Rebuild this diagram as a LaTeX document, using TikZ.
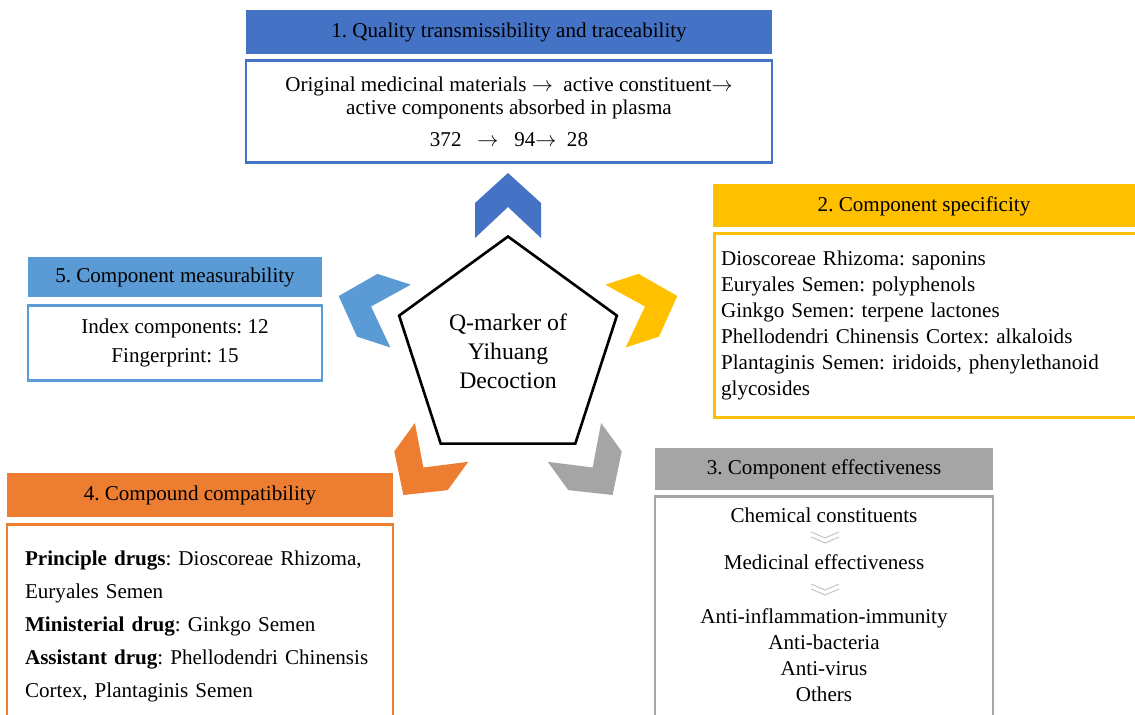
\documentclass[tikz,border=0pt]{standalone}
\usepackage{fontspec}
\setmainfont{Liberation Serif}
\usetikzlibrary{positioning,shapes.geometric,calc}
\frenchspacing

\definecolor{qblue}{HTML}{4472C4}
\definecolor{qyellow}{HTML}{FFC000}
\definecolor{qgray}{HTML}{A5A5A5}
\definecolor{qorange}{HTML}{ED7D31}
\definecolor{qsky}{HTML}{5B9BD5}

\begin{document}
\begin{tikzpicture}[
    x=0.02cm, y=-0.02cm,
    head/.style={fill=#1, inner sep=0pt, font=\fontsize{12}{14}\selectfont},
    body/.style={draw=#1, line width=1.6pt, fill=white, inner sep=0pt},
    wedge/.style={draw=black!22, line width=0.6pt},
    ]
    \useasboundingbox (0,0) rectangle (1135,715);

    % centre pentagon and the five chevrons
    \node[regular polygon, regular polygon sides=5, draw, line width=1.5pt, minimum size=4.58cm,
          inner sep=0pt, align=center, font=\fontsize{13.5}{16.5}\selectfont] (qm) at (508,351)
          {Q-marker of\\Yihuang\\Decoction};
    \foreach \a/\c in {0/qblue, -72/qyellow, -144/qgray, 144/qorange, 72/qsky}
        \fill[\c, shift={(qm.center)}, rotate=\a]
            (-33,-148) -- (0,-178) -- (33,-148) -- (33,-113) -- (0,-144) -- (-33,-113) -- cycle;

    % 1
    \node[head=qblue, minimum width=10.52cm, minimum height=0.88cm] (h1) at (509,32)
        {1. Quality transmissibility and traceability};
    \node[body=qblue, below=0.1cm of h1, minimum width=10.52cm, minimum height=2.04cm,
          align=center, font=\fontsize{12}{13}\selectfont] (b1)
        {Original medicinal materials $\rightarrow$ \ active constituent$\rightarrow$\\
         active components absorbed in plasma\\[5pt]
         372 \ \ $\rightarrow$ \ \ 94$\rightarrow$ \ 28};

    % 2
    \node[head=qyellow, minimum width=8.44cm, minimum height=0.86cm] (h2) at (924,206)
        {2. Component specificity};
    \node[body=qyellow, below=0.08cm of h2.south west, anchor=north west, minimum height=3.68cm,
          inner xsep=0.14cm, text width=8.4cm, align=left, font=\fontsize{12}{14.8}\selectfont] (b2)
        {Dioscoreae Rhizoma: saponins\\
         Euryales Semen: polyphenols\\
         Ginkgo Semen: terpene lactones\\
         Phellodendri Chinensis Cortex: alkaloids\\
         Plantaginis Semen: iridoids, phenylethanoid\\
         glycosides};

    % 3
    \node[head=qgray, minimum width=6.76cm, minimum height=0.84cm] (h3) at (824,469)
        {3. Component effectiveness};
    \node[body=qgray, below=0.1cm of h3, minimum width=6.76cm, minimum height=4.5cm] (b3) {};
    \node[font=\fontsize{12}{14.8}\selectfont] (c1) at (824,515) {Chemical constituents};
    \node[font=\fontsize{12}{14.8}\selectfont] (c2) at (824,562) {Medicinal effectiveness};
    \node[align=center, font=\fontsize{12}{14.8}\selectfont] (c3) at (824,655)
        {Anti-inflammation-immunity\\Anti-bacteria\\Anti-virus\\Others};
    \coordinate (v1) at (825,532);
    \coordinate (v2) at (825,584);
    \foreach \v in {v1,v2} {
        \draw[wedge] ($(\v)+(-14,0)$) -- ($(\v)+(0,6)$) -- ($(\v)+(14,0)$);
        \draw[wedge] ($(\v)+(-14,5)$) -- ($(\v)+(0,11)$) -- ($(\v)+(14,5)$);
    }

    % 4
    \node[head=qorange, minimum width=7.72cm, minimum height=0.9cm] (h4) at (200,495)
        {4. Compound compatibility};
    \node[body=qorange, below=0.1cm of h4, minimum height=4.1cm, inner xsep=0.36cm,
          text width=7.0cm, align=left, font=\fontsize{12}{18.8}\selectfont] (b4)
        {\textbf{Principle drugs}: Dioscoreae Rhizoma,\\
         Euryales Semen\\
         \textbf{Ministerial drug}: Ginkgo Semen\\
         \textbf{Assistant drug}: Phellodendri Chinensis\\
         Cortex, Plantaginis Semen};

    % 5
    \node[head=qsky, minimum width=5.88cm, minimum height=0.8cm] (h5) at (175,277)
        {5. Component measurability};
    \node[body=qsky, below=0.14cm of h5, minimum width=5.88cm, minimum height=1.5cm,
          align=center, font=\fontsize{12}{16.5}\selectfont] (b5)
        {Index components: 12\\Fingerprint: 15};
\end{tikzpicture}
\end{document}
